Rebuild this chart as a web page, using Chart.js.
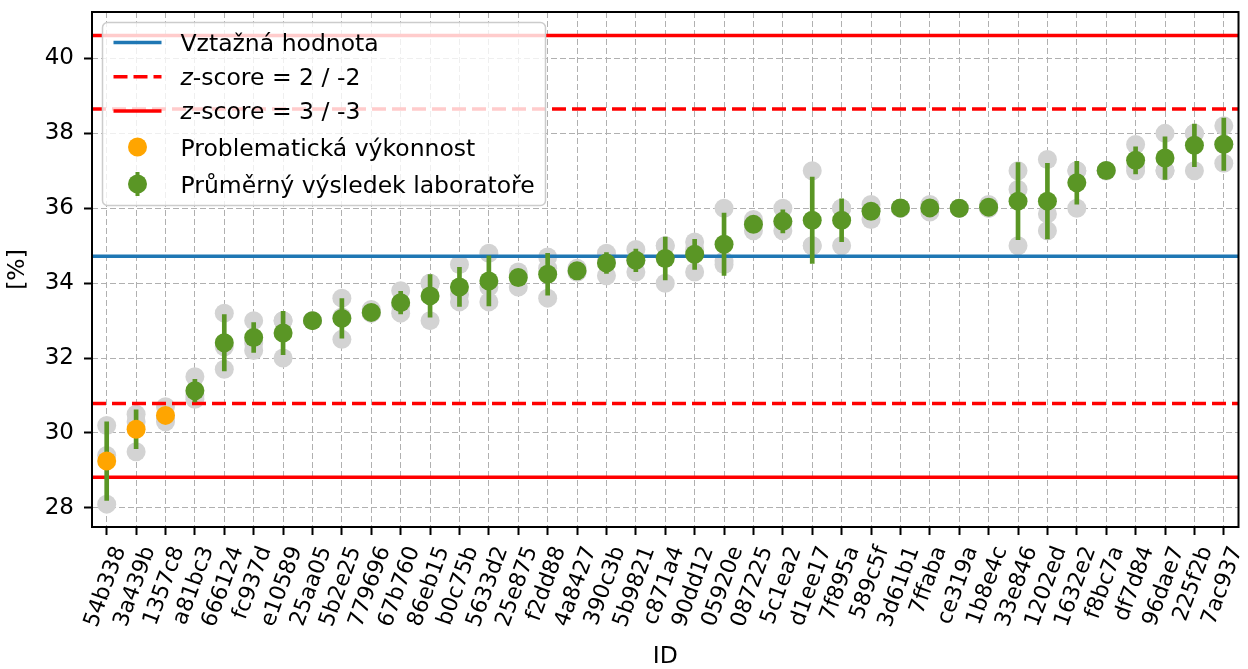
<!DOCTYPE html>
<html>
<head>
<meta charset="utf-8">
<script src="https://cdn.jsdelivr.net/npm/chart.js@4.4.0/dist/chart.umd.min.js"></script>
<style>
  html, body { margin: 0; padding: 0; background: #fff; }
  #wrap { width: 1248px; height: 669px; }
</style>
</head>
<body>
<div id="wrap"><canvas id="myChart" width="1248" height="669"></canvas></div>
<script>
// lab IDs, sorted by mean result
const ids = ['54b338','3a439b','1357c8','a81bc3','666124','fc937d','e10589','25aa05','5b2e25','779696',
  '67b760','86eb15','b0c75b','5633d2','25e875','f2dd88','4a8427','390c3b','5b9821','c871a4',
  '90dd12','05920e','087225','5c1ea2','d1ee17','7f895a','589c5f','3d61b1','7ffaba','ce319a',
  '1b8e4c','33e846','1202ed','1632e2','f8bc7a','df7d84','96dae7','225f2b','7ac937'];

// single measurements (grey dots)
const replicates = [
  [30.2, 29.4, 28.1], [30.5, 30.3, 29.5], [30.7, 30.4, 30.3], [31.5, 31.0, 30.9], [33.2, 32.3, 31.7],
  [33.0, 32.4, 32.2], [33.0, 33.0, 32.0], [33.0, 33.0, 33.0], [33.6, 33.1, 32.5], [33.3, 33.2, 33.2],
  [33.8, 33.4, 33.2], [34.0, 34.0, 33.0], [34.5, 33.7, 33.5], [34.8, 33.9, 33.5], [34.3, 34.2, 33.9],
  [34.7, 34.4, 33.6], [34.4, 34.3, 34.3], [34.8, 34.6, 34.2], [34.9, 34.6, 34.3], [35.0, 35.0, 34.0],
  [35.1, 34.9, 34.3], [36.0, 34.6, 34.5], [35.7, 35.6, 35.4], [36.0, 35.6, 35.4], [37.0, 35.0, 35.0],
  [36.0, 36.0, 35.0], [36.1, 35.95, 35.7], [36.0, 36.0, 36.0], [36.1, 36.0, 35.9], [36.0, 36.0, 36.0],
  [36.1, 36.0, 36.0], [37.0, 36.5, 35.0], [37.3, 35.85, 35.4], [37.0, 37.0, 36.0], [37.0, 37.0, 37.0],
  [37.7, 37.1, 37.0], [38.0, 37.0, 37.0], [38.0, 38.0, 37.0], [38.2, 37.7, 37.2]
];

// lab means and error bar half-lengths
const means = [29.25, 30.10, 30.47, 31.13, 32.41, 32.55, 32.67, 33.0, 33.06, 33.22,
  33.48, 33.66, 33.90, 34.06, 34.15, 34.24, 34.33, 34.54, 34.61, 34.66,
  34.77, 35.04, 35.57, 35.65, 35.68, 35.68, 35.92, 36.01, 36.01, 36.0,
  36.03, 36.19, 36.19, 36.68, 37.01, 37.28, 37.34, 37.68, 37.71];
const errors = [1.05, 0.52, 0.2, 0.3, 0.75, 0.4, 0.58, 0, 0.53, 0.06,
  0.3, 0.57, 0.52, 0.67, 0.2, 0.56, 0.06, 0.28, 0.3, 0.57,
  0.4, 0.83, 0.15, 0.31, 1.15, 0.57, 0.2, 0, 0.1, 0,
  0.06, 1.03, 1.01, 0.57, 0, 0.36, 0.57, 0.57, 0.7];

const problematic = ['54b338', '3a439b', '1357c8'];

const refValue = 34.72;
const z2Lines = [38.65, 30.79];
const z3Lines = [40.61, 28.82];
const yTicks = [28, 30, 32, 34, 36, 38, 40];

const BLUE = '#1f77b4';
const RED = '#ff0000';
const GREEN = '#5a9625';
const ORANGE = '#ffa500';
const GREY = '#d3d3d3';
const FONT = '"DejaVu Sans", sans-serif';
const DOT = 9.5;

Chart.defaults.font.family = FONT;
Chart.defaults.color = '#000';

const span = v => [{ x: -0.5, y: v }, { x: ids.length - 0.5, y: v }];

const greyPoints = [];
replicates.forEach((vals, i) => vals.forEach(v => greyPoints.push({ x: i, y: v })));

const meanPoints = [];
const badPoints = [];
ids.forEach((id, i) => {
  if (problematic.includes(id)) badPoints.push({ x: i, y: means[i] });
  else meanPoints.push({ x: i, y: means[i] });
});

const lineDs = (v, dash) => ({
  type: 'line', data: span(v), borderColor: RED, borderWidth: 3.5, borderDash: dash,
  pointRadius: 0, fill: false, order: 4
});

// rotated ID labels, centered under each tick like matplotlib does
const idLabels = {
  id: 'idLabels',
  afterDraw(chart) {
    const { ctx, scales: { x }, chartArea } = chart;
    const angle = 70 * Math.PI / 180;
    const size = 22;
    ctx.save();
    ctx.font = size + 'px ' + FONT;
    ctx.fillStyle = '#000';
    ctx.textAlign = 'center';
    ctx.textBaseline = 'middle';
    const top = chartArea.bottom + 16;
    ids.forEach((id, i) => {
      const w = ctx.measureText(id).width;
      const boxH = w * Math.sin(angle) + size * 1.164 * Math.cos(angle);
      ctx.save();
      ctx.translate(x.getPixelForValue(i) - 1, top + boxH / 2);
      ctx.rotate(-angle);
      ctx.fillText(id, 0, 0);
      ctx.restore();
    });
    ctx.restore();
  }
};

const frame = {
  id: 'frame',
  afterDatasetsDraw(chart) {
    const { ctx, chartArea: a } = chart;
    ctx.save();
    ctx.strokeStyle = '#000';
    ctx.lineWidth = 2;
    ctx.strokeRect(a.left, a.top, a.right - a.left, a.bottom - a.top);
    ctx.restore();
  }
};

const legendBox = {
  id: 'legendBox',
  afterDraw(chart) {
    const ctx = chart.ctx;
    const a = chart.chartArea;
    const bx = a.left + 10.5, by = a.top + 10.5;
    ctx.save();
    ctx.beginPath();
    ctx.roundRect(bx, by, 443, 183, 5);
    ctx.fillStyle = 'rgba(255,255,255,0.8)';
    ctx.fill();
    ctx.strokeStyle = '#cccccc';
    ctx.lineWidth = 1.5;
    ctx.stroke();

    const hx0 = bx + 11, hx1 = bx + 59, hxc = bx + 35, tx = bx + 78;
    const rows = [20, 54.2, 88.5, 124.5, 161.5];
    const base = [28.2, 62.5, 96.8, 133.2, 170.2];

    const hline = (y, color, dash) => {
      ctx.beginPath();
      ctx.setLineDash(dash);
      ctx.strokeStyle = color;
      ctx.lineWidth = 3.5;
      ctx.moveTo(hx0, y); ctx.lineTo(hx1, y);
      ctx.stroke();
      ctx.setLineDash([]);
    };
    const dot = (y, color) => {
      ctx.beginPath();
      ctx.fillStyle = color;
      ctx.arc(hxc, y, DOT, 0, Math.PI * 2);
      ctx.fill();
    };

    hline(by + rows[0], BLUE, []);
    hline(by + rows[1], RED, [14, 6]);
    hline(by + rows[2], RED, []);
    dot(by + rows[3], ORANGE);
    ctx.fillStyle = GREEN;
    ctx.fillRect(hxc - 2, by + rows[4] - 12, 4, 24);
    dot(by + rows[4], GREEN);

    ctx.fillStyle = '#000';
    ctx.textBaseline = 'alphabetic';
    ctx.textAlign = 'left';
    const normal = '23.5px ' + FONT;
    const italic = 'italic 23.5px ' + FONT;
    ctx.font = normal;
    ctx.fillText('Vztažná hodnota', tx, by + base[0]);
    ['2 / -2', '3 / -3'].forEach((s, k) => {
      ctx.font = italic;
      ctx.fillText('z', tx, by + base[k + 1]);
      const w = ctx.measureText('z').width;
      ctx.font = normal;
      ctx.fillText('-score = ' + s, tx + w, by + base[k + 1]);
    });
    ctx.fillText('Problematická výkonnost', tx, by + base[3]);
    ctx.fillText('Průměrný výsledek laboratoře', tx, by + base[4]);
    ctx.restore();
  }
};

const gridOpts = {
  color: '#b0b0b0', lineWidth: 1, borderDash: [6, 3],
  tickColor: '#000', tickWidth: 2, tickLength: 8, tickBorderDash: [], offset: false
};

new Chart(document.getElementById('myChart').getContext('2d'), {
  type: 'scatter',
  data: {
    datasets: [
      { label: 'Průměrný výsledek laboratoře', data: meanPoints, backgroundColor: GREEN,
        pointRadius: DOT, pointHoverRadius: DOT, pointBorderWidth: 0, order: 2 },
      { label: 'Problematická výkonnost', data: badPoints, backgroundColor: ORANGE,
        pointRadius: DOT, pointHoverRadius: DOT, pointBorderWidth: 0, order: 1 },
      { type: 'bar', label: 'errorbar', grouped: false, barThickness: 4, borderWidth: 0,
        backgroundColor: GREEN, order: 3,
        data: ids.map((id, i) => ({ x: i, y: [means[i] - errors[i], means[i] + errors[i]] })) },
      { label: 'measurements', data: greyPoints, backgroundColor: GREY,
        pointRadius: DOT, pointHoverRadius: DOT, pointBorderWidth: 0, order: 6 },
      { type: 'line', label: 'Vztažná hodnota', data: span(refValue), borderColor: BLUE,
        borderWidth: 3.5, pointRadius: 0, fill: false, order: 4 },
      lineDs(z2Lines[0], [14, 6]),
      lineDs(z2Lines[1], [14, 6]),
      lineDs(z3Lines[0], []),
      lineDs(z3Lines[1], [])
    ]
  },
  options: {
    responsive: false,
    devicePixelRatio: 1,
    animation: false,
    events: [],
    layout: { padding: { top: 12, right: 3, left: 0, bottom: 0 } },
    plugins: { legend: { display: false }, tooltip: { enabled: false } },
    scales: {
      x: {
        type: 'linear', min: -0.5, max: ids.length - 0.5, offset: false,
        grid: gridOpts,
        border: { display: false, dash: [6, 3] },
        ticks: { display: false },
        afterBuildTicks: s => { s.ticks = ids.map((id, i) => ({ value: i })); },
        afterFit: s => { s.height = 142; s.paddingLeft = 0; s.paddingRight = 0; },
        title: { display: true, text: 'ID', font: { size: 23.5, lineHeight: 1.0 }, padding: { top: 0, bottom: 0 } }
      },
      y: {
        type: 'linear', min: 27.49, max: 41.24, beginAtZero: false,
        grid: gridOpts,
        border: { display: false, dash: [6, 3] },
        ticks: { font: { size: 23 }, padding: 10 },
        afterBuildTicks: s => { s.ticks = yTicks.map(v => ({ value: v })); },
        afterFit: s => { s.width = 92; s.paddingTop = 0; s.paddingBottom = 0; },
        title: { display: true, text: '[%]', font: { size: 23.5 }, padding: { top: 4, bottom: 0 } }
      }
    }
  },
  plugins: [frame, idLabels, legendBox]
});
</script>
</body>
</html>
